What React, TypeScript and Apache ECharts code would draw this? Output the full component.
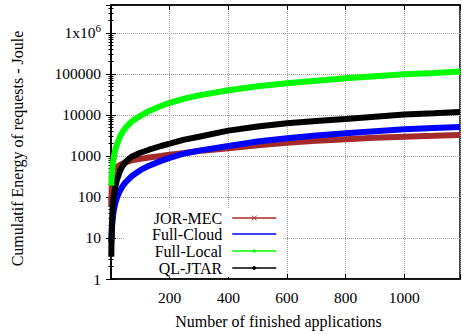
import React, { useEffect, useRef } from 'react';
import * as echarts from 'echarts';

const apps = [1, 2, 3, 5, 7, 10, 15, 20, 30, 40, 50, 70, 100, 130, 170, 200, 250, 300, 400, 500, 600, 700, 800, 900, 1000, 1100, 1190];
const jorMec = [60, 130, 220, 340, 410, 460, 500, 540, 600, 650, 700, 780, 850, 920, 1000, 1070, 1180, 1320, 1550, 1830, 2100, 2340, 2570, 2770, 2950, 3100, 3250];
const fullCloud = [8, 12, 17, 25, 35, 50, 72, 95, 140, 185, 230, 320, 450, 580, 760, 900, 1150, 1350, 1750, 2250, 2700, 3150, 3570, 4000, 4470, 4800, 5100];
const fullLocal = [190, 280, 370, 540, 720, 1000, 1450, 1900, 2900, 3900, 4900, 6900, 9500, 12500, 16500, 19800, 25000, 30000, 40000, 50000, 59000, 68500, 78500, 88000, 98000, 106000, 114000];
const qlJtar = [3.5, 10, 20, 45, 75, 110, 180, 260, 420, 580, 720, 960, 1200, 1420, 1750, 2000, 2500, 2950, 4150, 5250, 6300, 7150, 7970, 9100, 10200, 11000, 11800];

const seriesNames = ['JOR-MEC', 'Full-Cloud', 'Full-Local', 'QL-JTAR'];
const seriesColors = ['#a52a2a', '#0000ff', '#00ff00', '#000000'];
const xTicks = [200, 400, 600, 800, 1000];

const FONT = 'Liberation Serif';

export default function App() {
  const ref = useRef<HTMLDivElement>(null);
  useEffect(() => {
    if (!ref.current) return;
    const chart = echarts.init(ref.current, undefined, { renderer: 'svg' });
    const values = [jorMec, fullCloud, fullLocal, qlJtar];
    const symbols = ['path://M0,0L10,10M10,0L0,10', 'circle', 'circle', 'diamond'];
    const symSizes = [6, 1, 3, 4];
    const legendTops = [210, 226, 243, 260];
    const legendIconH = [6, 10, 3, 5];
    chart.setOption({
      animation: false,
      backgroundColor: '#fff',
      textStyle: { fontFamily: FONT },
      grid: { left: 111, right: 1, top: 5, bottom: 55, show: true, borderColor: '#000', borderWidth: 1.5, backgroundColor: 'transparent' },
      graphic: [
        { type: 'rect', shape: { x: 125, y: 208, width: 158, height: 69 }, style: { fill: '#fff' }, z: 3, silent: true },
      ],
      legend: seriesNames.map((n, i) => ({
        data: [n],
        orient: 'vertical',
        align: 'right',
        right: 186,
        top: legendTops[i],
        padding: 0,
        itemWidth: 44,
        itemHeight: legendIconH[i],
        itemGap: 0,
        z: 5,
        textStyle: { fontFamily: FONT, fontSize: 16, color: '#000', padding: [0, 5, 0, 0] },
        lineStyle: { width: 1.5 },
        itemStyle: i === 1 ? { color: 'transparent', borderColor: 'transparent', borderWidth: 0 } : { borderWidth: 1 },
      })),
      xAxis: [
        {
          type: 'value',
          min: 0,
          max: 1190,
          interval: 200,
          name: 'Number of finished applications',
          nameLocation: 'middle',
          nameGap: 34,
          nameTextStyle: { fontFamily: FONT, fontSize: 16, color: '#000', padding: [0, 14, 0, 0] },
          axisLine: { show: true, lineStyle: { color: '#000', width: 1.5 } },
          axisTick: { show: true, inside: true, length: 5, lineStyle: { color: '#000' } },
          axisLabel: {
            fontFamily: FONT, fontSize: 15.5, color: '#000', margin: 10,
            formatter: (v: number) => (xTicks.includes(v) ? '{n|' + String(v) + '}' : ''),
            rich: { n: { fontFamily: FONT, fontSize: 15.5, color: '#000' } },
          },
          splitLine: { show: true, lineStyle: { color: '#999', type: 'dotted', width: 1 } },
        },
        {
          type: 'value',
          position: 'top',
          min: 0,
          max: 1190,
          interval: 200,
          axisLine: { show: true, lineStyle: { color: '#000', width: 1.5 } },
          axisTick: { show: true, inside: true, length: 5, lineStyle: { color: '#000' } },
          axisLabel: { show: false },
          splitLine: { show: false },
        },
      ],
      yAxis: [
        {
          type: 'log',
          logBase: 10,
          min: 1,
          max: 4.8e6,
          name: 'Cumulatif Energy of requests - Joule',
          nameLocation: 'middle',
          nameGap: 86,
          nameTextStyle: { fontFamily: FONT, fontSize: 16, color: '#000', padding: [0, 13, 0, 0] },
          axisLine: { show: true, lineStyle: { color: '#000', width: 1.5 } },
          axisTick: { show: true, inside: true, length: 5, lineStyle: { color: '#000' } },
          minorTick: { show: true, splitNumber: 9, length: 2.5, lineStyle: { color: '#000' } },
          axisLabel: {
            color: '#000', margin: 10,
            formatter: (v: number) => {
              const e = Math.round(Math.log10(v));
              if (Math.abs(v - Math.pow(10, e)) > 1e-6 * v || e > 6) return '';
              if (e === 6) return '{n|1x10}{sup|6}';
              return '{n|' + String(Math.pow(10, e)) + '}';
            },
            rich: {
              n: { fontFamily: FONT, fontSize: 15.5, color: '#000' },
              sup: { fontFamily: FONT, fontSize: 11, color: '#000', padding: [0, 0, 9, 0] },
            },
          },
          splitLine: { show: true, lineStyle: { color: '#999', type: 'dotted', width: 1 } },
        },
        {
          type: 'log',
          logBase: 10,
          min: 1,
          max: 4.8e6,
          position: 'right',
          axisLine: { show: true, lineStyle: { color: '#000', width: 1.5 } },
          axisTick: { show: true, inside: true, length: 5, lineStyle: { color: '#000' } },
          minorTick: { show: true, splitNumber: 9, length: 2.5, lineStyle: { color: '#000' } },
          axisLabel: { show: false },
          splitLine: { show: false },
        },
      ],
      series: seriesNames.map((n, i) => ({
        name: n,
        type: 'line',
        xAxisIndex: 0,
        yAxisIndex: 0,
        data: apps.map((x, j) => [x, values[i][j]]),
        symbol: symbols[i],
        symbolSize: symSizes[i],
        showSymbol: false,
        smooth: false,
        color: seriesColors[i],
        lineStyle: { color: seriesColors[i], width: 6 },
        itemStyle: { color: seriesColors[i], borderColor: seriesColors[i], borderWidth: 1 },
        z: 2 + (i === 2 ? 1 : 0),
      })),
    });
    return () => chart.dispose();
  }, []);
  return <div ref={ref} style={{ position: 'fixed', left: 0, top: 0, width: 463, height: 334 }} />;
}
